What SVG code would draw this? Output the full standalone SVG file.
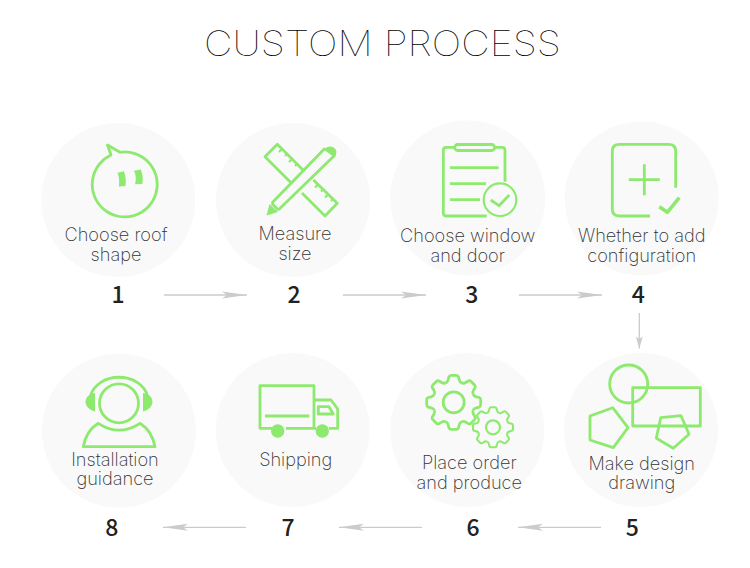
<svg xmlns="http://www.w3.org/2000/svg" xmlns:xlink="http://www.w3.org/1999/xlink" width="750" height="568" viewBox="0 0 750 568">
<style>
.bg{fill:#f9f9f9}
.ic{fill:none;stroke:#8ee96f;stroke-width:2.800;stroke-linejoin:round}
.th{stroke-width:2.200}
.fl{fill:#8ee96f;stroke:none}
.lb{font-family:Inter,"Liberation Sans",sans-serif;font-weight:200;font-size:18.200px;fill:#333;text-anchor:middle}
.nm{font-family:"Noto Sans CJK SC","Noto Sans",sans-serif;font-weight:500;font-size:23px;fill:#222;text-anchor:middle}
.ar{fill:none;stroke:#cbcbcb;stroke-width:1.300;marker-end:url(#ah)}
.av{fill:none;stroke:#cbcbcb;stroke-width:1.300;marker-end:url(#as)}
</style>
<defs>
<marker id="ah" markerUnits="userSpaceOnUse" markerWidth="26" markerHeight="8" refX="25" refY="4" orient="auto">
<path d="M0 .5L25 4L0 7.500L5 4Z" fill="#cbcbcb"/>
</marker>
<marker id="as" markerUnits="userSpaceOnUse" markerWidth="13" markerHeight="8" refX="12" refY="4" orient="auto">
<path d="M0 .5L12 4L0 7.500L2.500 4Z" fill="#cbcbcb"/>
</marker>
<g id="tooth"><path d="M-8.04-19.4Q-6-20.2-5.5-22.5L-4.8-25.4Q-4.2-27-2.5-27L2.5-27Q4.2-27 4.8-25.4L5.5-22.5Q6-20.2 8.04-19.4"/></g>
<g id="gear">
<use xlink:href="#tooth"/><use xlink:href="#tooth" transform="rotate(45)"/><use xlink:href="#tooth" transform="rotate(90)"/><use xlink:href="#tooth" transform="rotate(135)"/><use xlink:href="#tooth" transform="rotate(180)"/><use xlink:href="#tooth" transform="rotate(225)"/><use xlink:href="#tooth" transform="rotate(270)"/><use xlink:href="#tooth" transform="rotate(315)"/>
</g>
</defs>
<rect width="750" height="568" fill="#fff"/>
<text id="title" x="204" y="55.500" textLength="357" lengthAdjust="spacingAndGlyphs" style="font-family:Inter,'Liberation Sans',sans-serif;font-weight:100;font-size:35px;fill:#000">CUSTOM PROCESS</text>

<g id="connectors">
<path class="ar" d="M164 295H247"/>
<path class="ar" d="M343 295H426"/>
<path class="ar" d="M519 295H602"/>
<path class="av" d="M639.300 313V348.500"/>
<path class="ar" d="M601 527.300H518"/>
<path class="ar" d="M422 527.300H339"/>
<path class="ar" d="M246 527.300H163"/>
</g>

<g id="node1">
<circle class="bg" cx="118.300" cy="200" r="77"/>
<path class="ic" d="M111 155L107.500 145L120 152.300A32.500 32.500 0 1 1 111 155Z"/>
<path class="fl" d="M117.500 172.800L124 171.300Q126.500 179 125.500 186L118.800 186.500Q120 179 117.500 172.800Z"/>
<path class="fl" d="M134 170.800L140.800 169.500Q143.800 177 142.300 184L135 184.300Q137 177 134 170.800Z"/>
<text class="lb" x="116" y="241">Choose roof</text>
<text class="lb" x="116" y="260.700">shape</text>
<text class="nm" x="118" y="303">1</text>
</g>

<g id="node2">
<circle class="bg" cx="293" cy="200" r="77"/>
<path class="ic" d="M303 170L277.300 144.300L265 156.700L290.500 182.200M302 193L325 216L337.300 203.300L313.500 180"/>
<path class="ic th" d="M282 149l-3 3M287 154l-2 2M292 159l-3 3M297 164l-2 2M318 184.500l-3 3M323 189.500l-2 2M328 194.500l-3 3M333 199l-2 2"/>
<path class="ic" d="M271.700 203.300L325 148.300M278.300 210L335 155M271.700 203.300L278.300 210"/>
<path class="fl" d="M323.500 149.500Q327 146 331 146.500Q336 147.500 336.500 152Q336.500 155 334 157Z"/>
<path class="fl" d="M266.500 215.500L269.500 204L278 212Z"/>
<text class="lb" x="295" y="240">Measure</text>
<text class="lb" x="295" y="260">size</text>
<text class="nm" x="294" y="303">2</text>
</g>

<g id="node3">
<circle class="bg" cx="467.700" cy="198" r="77.500"/>
<path class="ic" d="M454 147.300H446.300Q443.300 147.300 443.300 150.300V213Q443.300 216 446.300 216H486.700M495 147.300H502Q505 147.300 505 150.300V181.700"/>
<rect class="ic" x="454.700" y="144.500" width="40" height="6" rx="3"/>
<path class="ic" d="M450 167.700H498.500M450 183.700H486M450 199.700H480"/>
<circle class="ic th" cx="500" cy="199.700" r="16.300"/>
<path class="ic" d="M490.700 200L499 205.700L509.300 195"/>
<text class="lb" x="467.700" y="241.700">Choose window</text>
<text class="lb" x="467.700" y="261.700">and door</text>
<text class="nm" x="471.700" y="303">3</text>
</g>

<g id="node4">
<circle class="bg" cx="641.700" cy="198.500" r="77"/>
<path class="ic" d="M675.700 187.700V151.300Q675.700 144.300 668.700 144.300H619.300Q612.300 144.300 612.300 151.300V209Q612.300 216 619.300 216H650"/>
<path class="ic" d="M644.300 164.200V195.200M628.800 179.700H659.800"/>
<path class="ic" style="stroke-width:3.600" d="M659.300 206.700L667.300 212.300L679.300 197.700"/>
<text class="lb" x="641.700" y="241.700">Whether to add</text>
<text class="lb" x="641.700" y="261.700">configuration</text>
<text class="nm" x="638.300" y="303">4</text>
</g>

<g id="node5">
<circle class="bg" cx="641" cy="430" r="77"/>
<circle class="ic" cx="628.700" cy="384" r="19"/>
<rect class="ic" x="632.700" y="387.700" width="67.600" height="38.300"/>
<path class="ic" d="M590 416L612.700 407.700L628 427.700L613.300 447.700L590 440Z"/>
<path class="ic" d="M660.700 417.700L681 415.700L689 434.300L673.300 448.300L656.300 438.300Z"/>
<text class="lb" x="641.700" y="470">Make design</text>
<text class="lb" x="641.700" y="489">drawing</text>
<text class="nm" x="632.300" y="536">5</text>
</g>

<g id="node6">
<circle class="bg" cx="467.300" cy="430" r="77"/>
<use class="ic" xlink:href="#gear" transform="translate(453.700 402.300)"/>
<circle class="ic" cx="453.700" cy="402.300" r="10.500"/>
<use class="ic" xlink:href="#gear" transform="translate(493 427.300) scale(.74)"/>
<circle class="ic th" cx="493" cy="427.300" r="7"/>
<text class="lb" x="469.300" y="469">Place order</text>
<text class="lb" x="469.300" y="488.700">and produce</text>
<text class="nm" x="473" y="536">6</text>
</g>

<g id="node7">
<circle class="bg" cx="292.700" cy="430" r="77"/>
<path class="ic" d="M272 428.300H260V385.700H314V428.300H286M314 428.300H316M265 416H309.300M314 400H331L337.700 409V428.300H329"/>
<path class="ic" d="M318.300 406.700H329L333.300 414H318.300Z"/>
<circle class="fl" cx="277.700" cy="431" r="6.700"/>
<circle class="fl" cx="322.300" cy="431" r="6.700"/>
<text class="lb" x="295.700" y="465.700">Shipping</text>
<text class="nm" x="288" y="536">7</text>
</g>

<g id="node8">
<circle class="bg" cx="119" cy="430.700" r="77"/>
<circle class="ic" cx="119" cy="403.300" r="19.500"/>
<path class="ic" d="M90.500 396A29 23 0 0 1 147.500 396"/>
<path class="fl" d="M92 393.500L95 393V411.500L92 410.500Q85.500 407 85.500 402Q85.500 396 92 393.500Z"/>
<path class="fl" d="M146 393.500L143 393V411.500L146 410.500Q152.500 407 152.500 402Q152.500 396 146 393.500Z"/>
<path class="ic" d="M83.300 446.700H155Q152 431 140 423.300Q119 437 98.300 423.300Q86 431 83.300 446.700Z"/>
<text class="lb" x="115" y="465.700">Installation</text>
<text class="lb" x="115" y="485">guidance</text>
<text class="nm" x="111.700" y="536">8</text>
</g>
</svg>
